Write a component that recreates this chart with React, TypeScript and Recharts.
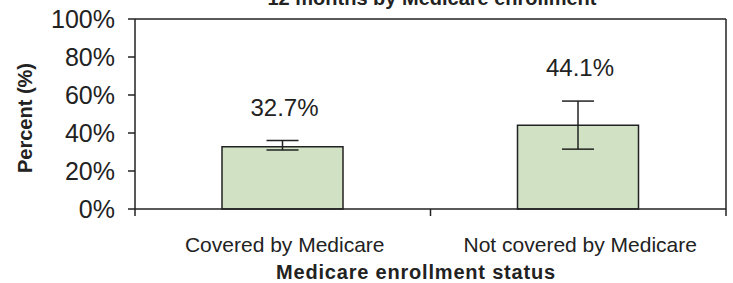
import React from 'react';
import { BarChart, Bar, XAxis, YAxis, ErrorBar, LabelList } from 'recharts';

const CATEGORIES = ['Covered by Medicare', 'Not covered by Medicare'];
const PERCENTS = [32.7, 44.1];
const ERR_LOW = [1.7, 12.6];
const ERR_HIGH = [3.3, 12.7];
const Y_TICKS = [0, 20, 40, 60, 80, 100];
const TITLE = '12 months by Medicare enrollment';
const X_TITLE = 'Medicare enrollment status';
const Y_TITLE = 'Percent (%)';

const data = CATEGORIES.map((name, i) => ({
  name,
  value: PERCENTS[i],
  err: [ERR_LOW[i], ERR_HIGH[i]],
}));

const W = 733;
const H = 283;
const M = { top: 18, right: 6, bottom: 0, left: 0 };
const Y_AXIS_W = 135;
const X_AXIS_H = 74;
const TOP_AXIS_H = 1;
const RIGHT_AXIS_W = 1;
const PLOT_W = W - M.left - M.right - Y_AXIS_W - RIGHT_AXIS_W;
const AXIS_Y = H - M.bottom - X_AXIS_H;
const BAND = PLOT_W / CATEGORIES.length;
const FONT = 'Liberation Sans, Arial, Helvetica, sans-serif';
const INK = '#222';

const CatTick = (props: any) => {
  const { x, payload, index } = props;
  return (
    <g>
      <line x1={x - BAND / 2} x2={x - BAND / 2} y1={AXIS_Y} y2={AXIS_Y + 7} stroke={INK} strokeWidth={1.5} />
      {index === CATEGORIES.length - 1 && (
        <line x1={x + BAND / 2} x2={x + BAND / 2} y1={AXIS_Y} y2={AXIS_Y + 7} stroke={INK} strokeWidth={1.5} />
      )}
      <text x={x + 2} y={AXIS_Y + 43} textAnchor="middle" fontSize={21} fill={INK} fontFamily={FONT}>
        {payload.value}
      </text>
    </g>
  );
};

const ValueLabel = (props: any) => {
  const { x, y, width, height, value, index } = props;
  const pxPerUnit = height / value;
  const errTop = y - ERR_HIGH[index] * pxPerUnit;
  return (
    <text x={x + width / 2 + 2} y={errTop - 25} textAnchor="middle" fontSize={24} fill={INK} fontFamily={FONT}>
      {value.toFixed(1)}%
    </text>
  );
};

export default function App() {
  return (
    <div style={{ position: 'absolute', left: 0, top: 0, width: W, height: H, background: '#fff' }}>
      <BarChart width={W} height={H} data={data} margin={M}>
        <XAxis
          xAxisId="top"
          dataKey="name"
          orientation="top"
          height={TOP_AXIS_H}
          tick={false}
          tickLine={false}
          axisLine={{ stroke: INK, strokeWidth: 1.5 }}
          label={() => (
            <text x={432} y={5} textAnchor="middle" fontSize={20} fontWeight="bold" fill={INK} fontFamily={FONT}>
              {TITLE}
            </text>
          )}
        />
        <XAxis
          dataKey="name"
          height={X_AXIS_H}
          interval={0}
          tickLine={false}
          axisLine={{ stroke: INK, strokeWidth: 1.5 }}
          tick={<CatTick />}
          label={() => (
            <text x={416} y={279} textAnchor="middle" fontSize={20} fontWeight="bold" fill={INK} fontFamily={FONT} letterSpacing={0.8}>
              {X_TITLE}
            </text>
          )}
        />
        <YAxis
          domain={[0, 100]}
          ticks={Y_TICKS}
          width={Y_AXIS_W}
          interval={0}
          tickSize={7}
          tickMargin={13}
          tickFormatter={(v: number) => `${v}%`}
          tick={{ fontSize: 25, fill: INK, fontFamily: FONT }}
          tickLine={{ stroke: INK, strokeWidth: 1.5 }}
          axisLine={{ stroke: INK, strokeWidth: 1.5 }}
          label={() => (
            <text
              x={25}
              y={118}
              transform="rotate(-90 25 118)"
              textAnchor="middle"
              dominantBaseline="central"
              fontSize={20}
              fontWeight="bold"
              fill={INK}
              fontFamily={FONT}
            >
              {Y_TITLE}
            </text>
          )}
        />
        <YAxis
          yAxisId="r"
          orientation="right"
          domain={[0, 100]}
          width={RIGHT_AXIS_W}
          tick={false}
          tickLine={false}
          axisLine={{ stroke: INK, strokeWidth: 1.5 }}
        />
        <Bar dataKey="value" fill="#d0e2c3" stroke={INK} strokeWidth={1.5} barSize={121} isAnimationActive={false}>
          <ErrorBar dataKey="err" width={16} stroke={INK} strokeWidth={1.5} isAnimationActive={false} />
          <LabelList dataKey="value" content={<ValueLabel />} />
        </Bar>
      </BarChart>
    </div>
  );
}
